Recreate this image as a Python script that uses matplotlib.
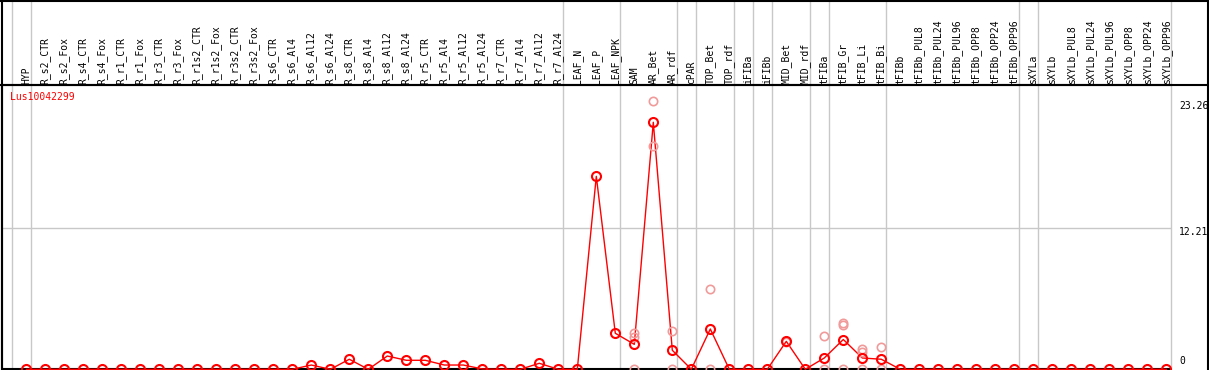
import matplotlib
matplotlib.use("Agg")
import matplotlib.pyplot as plt
from matplotlib.lines import Line2D
from matplotlib.transforms import blended_transform_factory

# ---------------- data ----------------
categories = [
    "HYP", "R_s2_CTR", "R_s2_Fox", "R_s4_CTR", "R_s4_Fox", "R_r1_CTR", "R_r1_Fox",
    "R_r3_CTR", "R_r3_Fox", "R_r1s2_CTR", "R_r1s2_Fox", "R_r3s2_CTR", "R_r3s2_Fox",
    "R_s6_CTR", "R_s6_Al4", "R_s6_Al12", "R_s6_Al24", "R_s8_CTR", "R_s8_Al4",
    "R_s8_Al12", "R_s8_Al24", "R_r5_CTR", "R_r5_Al4", "R_r5_Al12", "R_r5_Al24",
    "R_r7_CTR", "R_r7_Al4", "R_r7_Al12", "R_r7_Al24", "LEAF_N", "LEAF_P", "LEAF_NPK",
    "SAM", "AR_Bet", "AR_rdf", "cPAR", "TOP_Bet", "TOP_rdf", "iFIBa", "iFIBb",
    "MID_Bet", "MID_rdf", "tFIBa", "tFIB_Gr", "tFIB_Li", "tFIB_Bi", "tFIBb",
    "tFIBb_PUL8", "tFIBb_PUL24", "tFIBb_PUL96", "tFIBb_OPP8", "tFIBb_OPP24",
    "tFIBb_OPP96", "sXYLa", "sXYLb", "sXYLb_PUL8", "sXYLb_PUL24", "sXYLb_PUL96",
    "sXYLb_OPP8", "sXYLb_OPP24", "sXYLb_OPP96",
]

mean_values = [
    0, 0, 0, 0, 0, 0, 0, 0, 0, 0, 0, 0, 0, 0, 0,
    0.37, 0, 0.87, 0, 1.15, 0.78, 0.78, 0.37, 0.37, 0.03, 0, 0, 0.52, 0,
    0, 16.71, 3.12, 2.16, 21.39, 1.65, 0, 3.49, 0, 0, 0, 2.42, 0,
    0.98, 2.58, 0.98, 0.87,
    0, 0, 0, 0, 0, 0, 0, 0, 0, 0, 0, 0, 0, 0, 0,
]

replicate_categories = [
    "SAM", "SAM", "SAM", "AR_Bet", "AR_Bet", "AR_rdf", "AR_rdf", "TOP_Bet", "TOP_Bet",
    "MID_Bet", "MID_Bet", "tFIBa", "tFIBa", "tFIB_Gr", "tFIB_Gr", "tFIB_Gr",
    "tFIB_Li", "tFIB_Li", "tFIB_Li", "tFIB_Bi", "tFIB_Bi",
]
replicate_values = [
    3.12, 2.82, 0, 23.26, 19.34, 3.32, 0, 6.93, 0,
    2.45, 2.38, 2.88, 0, 4.03, 3.83, 0,
    1.73, 1.47, 0, 1.96, 0,
]

# separators are drawn after these categories (plus one before the first)
group_ends = ["HYP", "R_r7_Al24", "LEAF_NPK", "AR_rdf", "cPAR", "TOP_rdf", "iFIBa",
              "iFIBb", "MID_rdf", "tFIBa", "tFIB_Bi", "tFIBb_OPP96", "sXYLa", "sXYLb_OPP96"]

gene_name = "Lus10042299"
ytick_values = [0, 12.21, 23.26]
ytick_labels = ["0", "12.21", "23.26"]

# ---------------- drawing ----------------
W, H = 1209, 370
fig = plt.figure(figsize=(W / 100, H / 100), dpi=100)
fig.patch.set_facecolor("white")

mono = "DejaVu Sans Mono"
fs = 7

ax_left, ax_right, ax_top = 1.5, 1170.7, 85
ax = fig.add_axes([ax_left / W, 0, (ax_right - ax_left) / W, (H - ax_top) / H])
x_of = {c: i for i, c in enumerate(categories)}
xs = list(range(len(categories)))

# pixel mapping: x = 26.3 + 19*i ; value 0 at y=369.3, 11.548 px / unit
ax.set_xlim((ax_left - 26.3) / 19, (ax_right - 26.3) / 19)
ax.set_ylim((369.3 - H) / 11.548, (369.3 - ax_top) / 11.548)
ax.set_xticks([])
ax.set_yticks([])
for s in ["right", "bottom"]:
    ax.spines[s].set_visible(False)
ax.spines["left"].set_linewidth(1.5)
ax.spines["top"].set_linewidth(1.5)

grey = "#c8c8c8"
# horizontal grid line
ax.axhline(12.21, color=grey, lw=1.0, zorder=1)
# bottom (zero) axis line
ax.axhline(0, color="black", lw=1.5, zorder=2)

# separator lines across header and plot
trans_xfig = blended_transform_factory(ax.transData, fig.transFigure)
sep_positions = [-1] + [x_of[c] for c in group_ends]
for p in sep_positions:
    ax.add_line(Line2D([p + 0.24, p + 0.24], [0, 1], transform=trans_xfig,
                       color=grey, lw=1.0, clip_on=False, zorder=1))

# category labels in header
label_y = 1 - 84 / H
for i, c in enumerate(categories):
    ax.text(i, label_y, c, transform=trans_xfig, rotation=90, ha="center", va="bottom",
            fontsize=fs, family=mono, color="black", clip_on=False)

# main line
ax.plot(xs, mean_values, color="red", lw=1.0, zorder=3)
# replicates
rx = [x_of[c] for c in replicate_categories]
ax.plot(rx, replicate_values, ls="none", marker="o", ms=6, mfc="none",
        mec="#f09a9a", mew=1.2, zorder=4)
# main markers
ax.plot(xs, mean_values, ls="none", marker="o", ms=6.5, mfc="none",
        mec="red", mew=1.5, zorder=5)

# right-side value labels
offsets = {0: 8, 12.21: -4, 23.26: -5}
for v, lab in zip(ytick_values, ytick_labels):
    ax.annotate(lab, xy=(ax_right / W, v), xycoords=("figure fraction", "data"),
                xytext=(8.5, offsets[v]), textcoords="offset pixels",
                ha="left", va="center", fontsize=fs, family=mono, color="black",
                annotation_clip=False)

# gene name
fig.text(10 / W, 1 - 97 / H, gene_name, ha="left", va="center", fontsize=fs,
         family=mono, color="red")

# figure borders
for (x0, x1, y0, y1) in [(0, 1, 1 - 0.5 / H, 1 - 0.5 / H),
                         (0, 1, 1 - 85 / H, 1 - 85 / H),
                         (1 - 1.5 / W, 1 - 1.5 / W, 0, 1),
                         (ax_left / W, ax_left / W, 0, 1)]:
    fig.add_artist(Line2D([x0, x1], [y0, y1], transform=fig.transFigure,
                          color="black", lw=1.5))

fig.savefig("out.png", dpi=100)
